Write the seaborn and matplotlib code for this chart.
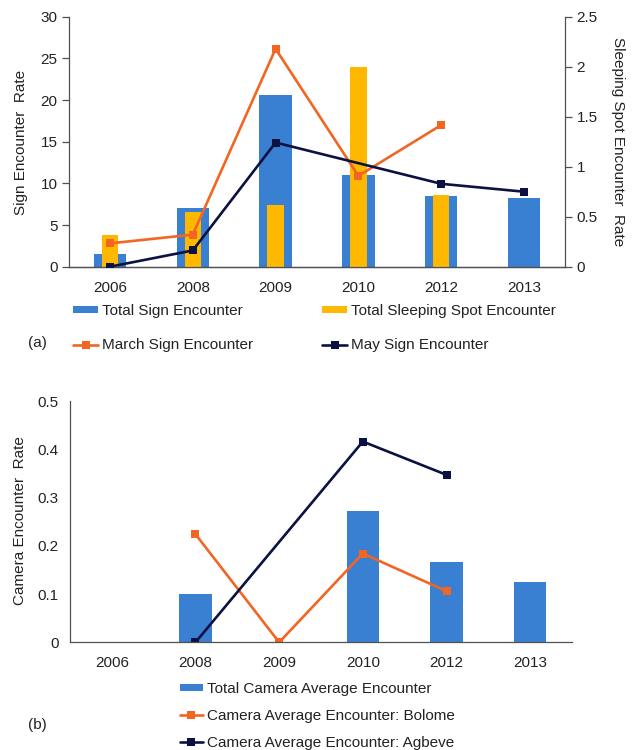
import matplotlib
matplotlib.use("Agg")
import matplotlib.pyplot as plt
from matplotlib.ticker import FuncFormatter
import numpy as np
import seaborn as sns
import pandas as pd

# ========================================================================
# DATA
# ========================================================================
years = ['2006', '2008', '2009', '2010', '2012', '2013']

# (a) SIGN / SLEEPING SPOT
total_sign = [1.5, 7.1, 20.6, 11.0, 8.5, 8.25]
total_sleeping = [0.32, 0.55, 0.62, 2.0, 0.72, np.nan]
march_sign = [2.8, 3.85, 26.15, 10.9, 17.0, np.nan]
may_sign = [0.0, 1.95, 14.9, np.nan, 9.95, 9.0]

# (b) CAMERA
total_camera = [np.nan, 0.1, np.nan, 0.272, 0.167, 0.124]
camera_bolome = [np.nan, 0.224, 0.0, 0.184, 0.106, np.nan]
camera_agbeve = [np.nan, 0.0, np.nan, 0.416, 0.347, np.nan]

# COLORS
BLUE = '#3A80D2'
YELLOW = '#FFB800'
ORANGE = '#F26522'
NAVY = '#0B1242'
SPINE = '#505050'
TEXT = '#222222'

sns.set_style('white')
plt.rcParams['font.family'] = ['Liberation Sans', 'DejaVu Sans']
plt.rcParams['font.size'] = 11
plt.rcParams['text.color'] = TEXT


def frame(values):
    df = pd.DataFrame({'year': years, 'pos': np.arange(len(years)), 'value': values})
    return df.dropna()


def style_axis(a):
    for s in a.spines.values():
        s.set_color(SPINE)
        s.set_linewidth(0.9)
    a.spines['top'].set_visible(False)
    a.tick_params(axis='x', length=0, pad=10, labelsize=11, colors=TEXT)
    a.tick_params(axis='y', length=5, width=0.9, color=SPINE, pad=3,
                  labelsize=11, labelcolor=TEXT, direction='out')
    a.yaxis.set_major_formatter(FuncFormatter(lambda v, p: f'{v:g}'))
    a.set_xlabel('')
    a.set_ylabel('')
    if a.get_legend():
        a.get_legend().remove()


line_kw = dict(marker='s', markersize=5.5, markeredgewidth=0, linewidth=1.9)
bar_kw = dict(saturation=1, linewidth=0, edgecolor='none')

fig = plt.figure(figsize=(6.35, 7.5), dpi=100)

# ========================================================================
# (a) SIGN ENCOUNTER
# ========================================================================
ax = fig.add_axes([0.108, 0.6444, 0.7824, 0.3333])
sns.barplot(data=frame(total_sign), x='year', y='value', order=years, ax=ax,
            color=BLUE, width=0.39, label='Total Sign Encounter', **bar_kw)
ax.set_ylim(0, 30)
ax.set_xlim(-0.5, 5.5)
ax.set_yticks(range(0, 31, 5))
ax.spines['right'].set_visible(False)
style_axis(ax)

# RIGHT AXIS (SLEEPING SPOT)
ax2 = ax.twinx()
sns.barplot(data=frame(total_sleeping), x='year', y='value', order=years, ax=ax2,
            color=YELLOW, width=0.2, label='Total Sleeping Spot Encounter', **bar_kw)
ax2.set_ylim(0, 2.5)
ax2.set_xlim(-0.5, 5.5)
ax2.set_yticks([0, 0.5, 1, 1.5, 2, 2.5])
style_axis(ax2)
ax2.spines['left'].set_visible(False)

# LINES ON TOP LAYER (LEFT SCALE)
ax3 = ax.twinx()
sns.lineplot(data=frame(march_sign), x='pos', y='value', ax=ax3, color=ORANGE,
             label='March Sign Encounter', **line_kw)
sns.lineplot(data=frame(may_sign), x='pos', y='value', ax=ax3, color=NAVY,
             label='May Sign Encounter', **line_kw)
ax3.set_ylim(0, 30)
ax3.set_xlim(-0.5, 5.5)
ax3.axis('off')
if ax3.get_legend():
    ax3.get_legend().remove()

fig.text(21 / 635, 1 - 142 / 750, 'Sign Encounter  Rate', rotation=90,
         ha='center', va='center', fontsize=11)
fig.text(618 / 635, 1 - 142 / 750, 'Sleeping Spot Encounter  Rate', rotation=270,
         ha='center', va='center', fontsize=11)

h1, l1 = ax.get_legend_handles_labels()
h2, l2 = ax2.get_legend_handles_labels()
h3, l3 = ax3.get_legend_handles_labels()
handles = [h1[0], h3[0], h2[0], h3[1]]
labels = [l1[0], l3[0], l2[0], l3[1]]
fig.legend(handles, labels, ncol=2, loc='upper left',
           bbox_to_anchor=(73 / 635, 1 - 304 / 750), frameon=False,
           borderpad=0, borderaxespad=0, handlelength=1.65, handleheight=0.35,
           handletextpad=0.25, columnspacing=4.5, labelspacing=1.33, fontsize=11)
fig.text(37 / 635, 1 - 343 / 750, '(a)', ha='center', va='center', fontsize=11)

# ========================================================================
# (b) CAMERA ENCOUNTER
# ========================================================================
bx = fig.add_axes([0.1102, 0.1436, 0.7906, 0.3217])
sns.barplot(data=frame(total_camera), x='year', y='value', order=years, ax=bx,
            color=BLUE, width=0.39, label='Total Camera Average Encounter', **bar_kw)
sns.lineplot(data=frame(camera_bolome), x='pos', y='value', ax=bx, color=ORANGE,
             label='Camera Average Encounter: Bolome', **line_kw)
sns.lineplot(data=frame(camera_agbeve), x='pos', y='value', ax=bx, color=NAVY,
             label='Camera Average Encounter: Agbeve', **line_kw)
bx.set_ylim(0, 0.5)
bx.set_xlim(-0.5, 5.5)
bx.set_yticks([0, 0.1, 0.2, 0.3, 0.4, 0.5])
bx.spines['right'].set_visible(False)
style_axis(bx)

fig.text(20 / 635, 1 - 521 / 750, 'Camera Encounter  Rate', rotation=90,
         ha='center', va='center', fontsize=11)

hb, lb = bx.get_legend_handles_labels()
bar_idx = lb.index('Total Camera Average Encounter')
order = [bar_idx] + [i for i in range(len(lb)) if i != bar_idx]
fig.legend([hb[i] for i in order], [lb[i] for i in order], ncol=1, loc='upper left',
           bbox_to_anchor=(180 / 635, 1 - 682 / 750), frameon=False,
           borderpad=0, borderaxespad=0, handlelength=1.5, handleheight=0.35,
           handletextpad=0.25, labelspacing=0.85, fontsize=11)
fig.text(37 / 635, 1 - 725 / 750, '(b)', ha='center', va='center', fontsize=11)

plt.savefig('out.png', dpi=100)
